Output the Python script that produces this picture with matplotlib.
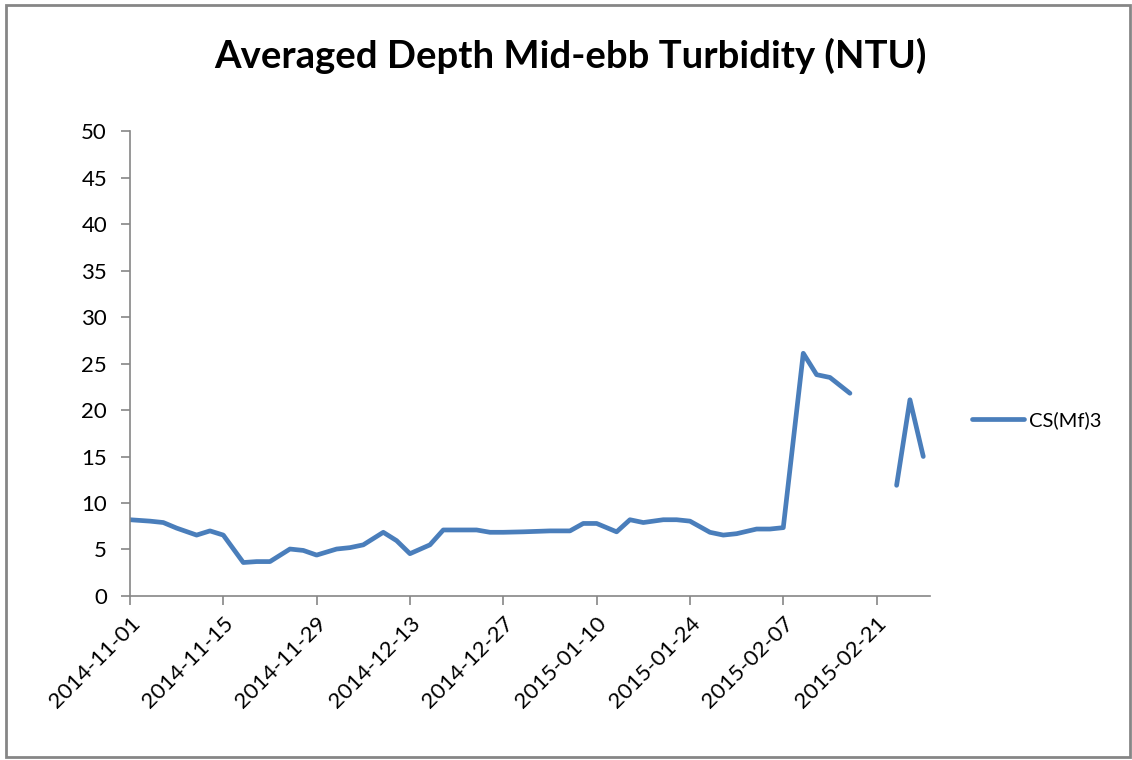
import matplotlib
matplotlib.use('Agg')
import matplotlib.pyplot as plt
import matplotlib.dates as mdates
import numpy as np
import pandas as pd

plt.rcParams['font.family'] = ['Lato', 'DejaVu Sans']

# sampling dates (Tue/Thu/Sat) and mid-ebb turbidity, NaN = no sample
dates = pd.to_datetime([
    '2014-11-01', '2014-11-04', '2014-11-06', '2014-11-08', '2014-11-11',
    '2014-11-13', '2014-11-15', '2014-11-18', '2014-11-20', '2014-11-22',
    '2014-11-25', '2014-11-27', '2014-11-29', '2014-12-02', '2014-12-04',
    '2014-12-06', '2014-12-09', '2014-12-11', '2014-12-13', '2014-12-16',
    '2014-12-18', '2014-12-20', '2014-12-23', '2014-12-25', '2014-12-27',
    '2014-12-30', '2015-01-01', '2015-01-03', '2015-01-06', '2015-01-08',
    '2015-01-10', '2015-01-13', '2015-01-15', '2015-01-17', '2015-01-20',
    '2015-01-22', '2015-01-24', '2015-01-27', '2015-01-29', '2015-01-31',
    '2015-02-03', '2015-02-05', '2015-02-07', '2015-02-10', '2015-02-12',
    '2015-02-14', '2015-02-17', '2015-02-19', '2015-02-21', '2015-02-24',
    '2015-02-26', '2015-02-28'])
cs_mf3 = [8.2, 8.05, 7.9, 7.3, 6.55,
          7.0, 6.55, 3.6, 3.7, 3.7,
          5.05, 4.9, 4.4, 5.05, 5.2,
          5.5, 6.85, 5.95, 4.55, 5.5,
          7.1, 7.1, 7.1, 6.85, 6.85,
          6.9, 6.95, 7.0, 7.0, 7.8,
          7.8, 6.9, 8.2, 7.9, 8.2,
          8.2, 8.05, 6.85, 6.55, 6.7,
          7.2, 7.2, 7.35, 26.1, 23.8,
          23.5, 21.8, np.nan, np.nan, 11.9,
          21.1, 15.0]

fig = plt.figure(figsize=(11.32, 7.6), dpi=100)
ax = fig.add_axes([0.1148, 0.2158, 0.7067, 0.6118])

ax.plot(dates, cs_mf3, color='#4A7EBB', lw=3.4, label='CS(Mf)3',
        solid_joinstyle='round', solid_capstyle='round')

ax.set_ylim(0, 50)
ax.set_yticks(np.arange(0, 51, 5))
ax.set_xlim(pd.Timestamp('2014-11-01'), pd.Timestamp('2015-03-01'))
ax.set_xticks(pd.date_range('2014-11-01', '2015-02-21', freq='14D'))
ax.xaxis.set_major_formatter(mdates.DateFormatter('%Y-%m-%d'))
plt.setp(ax.get_xticklabels(), rotation=45, ha='right', rotation_mode='anchor')

for s in ['top', 'right']:
    ax.spines[s].set_visible(False)
for s in ['left', 'bottom']:
    ax.spines[s].set_color('#868686')
    ax.spines[s].set_linewidth(1.2)
ax.tick_params(axis='both', colors='#868686', labelcolor='black',
               labelsize=16, length=6.5, width=1.2, direction='out')
ax.tick_params(axis='y', pad=10)
ax.tick_params(axis='x', pad=6)

fig.text(0.504, 0.927, 'Averaged Depth Mid-ebb Turbidity (NTU)',
         ha='center', va='center', fontsize=27.5, fontweight='bold')

ax.legend(loc='center left', bbox_to_anchor=(1.03, 0.379), frameon=False,
          fontsize=14.5, handlelength=2.6, handletextpad=0.25)

# chart border
fig.add_artist(plt.Rectangle((0.005, 0.004), 0.993, 0.989, transform=fig.transFigure,
                             fill=False, edgecolor='#868686', lw=2))

plt.savefig('out.png', dpi=100)
